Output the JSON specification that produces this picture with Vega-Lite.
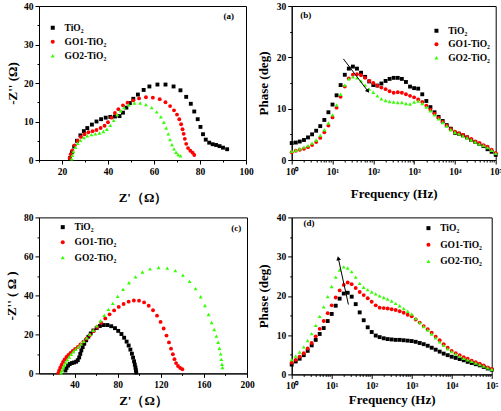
{
"$schema": "https://vega.github.io/schema/vega-lite/v6.json",
"padding": {"left": 5, "top": 0, "right": 0, "bottom": 0},
"background": "white",
"columns": 2,
"align": "each",
"bounds": "flush",
"spacing": {"column": 44.7, "row": 57.4},
"resolve": {"scale": {"color": "independent", "shape": "independent"}, "legend": {"color": "independent", "shape": "independent"}},
"config": {
  "font": "Liberation Serif",
  "view": {"stroke": "#000", "strokeWidth": 1},
  "axis": {"grid": false, "domainColor": "#000", "domainWidth": 1, "tickColor": "#000", "labelColor": "#000", "titleColor": "#000", "labelFont": "Liberation Serif", "titleFont": "Liberation Serif", "labelFontWeight": "bold", "titleFontWeight": "bold", "labelFontSize": 9.5, "titleFontSize": 13, "labelPadding": 2, "labelOverlap": false, "labelFlush": false, "labelBound": false, "tickCount": 200},
  "legend": {"labelFont": "Liberation Serif", "labelFontWeight": "bold", "labelFontSize": 9.5, "labelColor": "#000", "symbolSize": 16, "rowPadding": 4.5, "labelOffset": 7, "orient": "none", "padding": 0, "title": null, "symbolStrokeWidth": 0}
},
"concat": [
{
  "width": 207, "height": 154,
  "data": {"values": [
    {"s":"TiO₂","x":23.5,"y":0.5},{"s":"TiO₂","x":24.3,"y":2},{"s":"TiO₂","x":25.3,"y":3.5},{"s":"TiO₂","x":26.5,"y":5},{"s":"TiO₂","x":28,"y":6.4},{"s":"TiO₂","x":29.5,"y":7.5},{"s":"TiO₂","x":31,"y":8.3},{"s":"TiO₂","x":33,"y":9.2},{"s":"TiO₂","x":35,"y":10},{"s":"TiO₂","x":37,"y":10.6},{"s":"TiO₂","x":39,"y":11},{"s":"TiO₂","x":41,"y":11.2},{"s":"TiO₂","x":43,"y":11.3},{"s":"TiO₂","x":45,"y":11.4},{"s":"TiO₂","x":46.5,"y":12.3},{"s":"TiO₂","x":48,"y":13.6},{"s":"TiO₂","x":49.5,"y":14.8},{"s":"TiO₂","x":51,"y":15.9},{"s":"TiO₂","x":53,"y":17},{"s":"TiO₂","x":55.5,"y":18.2},{"s":"TiO₂","x":58,"y":19.1},{"s":"TiO₂","x":61.5,"y":19.6},{"s":"TiO₂","x":65,"y":19.6},{"s":"TiO₂","x":68.5,"y":19.1},{"s":"TiO₂","x":71.5,"y":18.1},{"s":"TiO₂","x":74,"y":16.4},{"s":"TiO₂","x":76,"y":14.6},{"s":"TiO₂","x":77.5,"y":12.6},{"s":"TiO₂","x":79,"y":10.6},{"s":"TiO₂","x":80.2,"y":8.6},{"s":"TiO₂","x":81.3,"y":6.7},{"s":"TiO₂","x":82.5,"y":5.3},{"s":"TiO₂","x":84,"y":4.5},{"s":"TiO₂","x":85.5,"y":4.1},{"s":"TiO₂","x":87,"y":3.9},{"s":"TiO₂","x":88.5,"y":3.6},{"s":"TiO₂","x":90,"y":3.2},{"s":"TiO₂","x":91.8,"y":2.8},
    {"s":"GO1-TiO₂","x":23.3,"y":0.5},{"s":"GO1-TiO₂","x":23.8,"y":1.5},{"s":"GO1-TiO₂","x":24.5,"y":2.5},{"s":"GO1-TiO₂","x":25.5,"y":3.8},{"s":"GO1-TiO₂","x":26.8,"y":5},{"s":"GO1-TiO₂","x":28.2,"y":6},{"s":"GO1-TiO₂","x":29.8,"y":6.7},{"s":"GO1-TiO₂","x":31.5,"y":7.2},{"s":"GO1-TiO₂","x":33.3,"y":7.5},{"s":"GO1-TiO₂","x":35,"y":7.8},{"s":"GO1-TiO₂","x":36.8,"y":8.3},{"s":"GO1-TiO₂","x":38.5,"y":8.9},{"s":"GO1-TiO₂","x":40,"y":9.8},{"s":"GO1-TiO₂","x":41.5,"y":11},{"s":"GO1-TiO₂","x":43,"y":12.2},{"s":"GO1-TiO₂","x":44.5,"y":13.2},{"s":"GO1-TiO₂","x":46.5,"y":14.2},{"s":"GO1-TiO₂","x":48.5,"y":14.9},{"s":"GO1-TiO₂","x":51,"y":15.5},{"s":"GO1-TiO₂","x":53.5,"y":16},{"s":"GO1-TiO₂","x":56.5,"y":16.3},{"s":"GO1-TiO₂","x":59.5,"y":16.2},{"s":"GO1-TiO₂","x":62.5,"y":15.8},{"s":"GO1-TiO₂","x":65,"y":15},{"s":"GO1-TiO₂","x":67,"y":14},{"s":"GO1-TiO₂","x":68.7,"y":12.9},{"s":"GO1-TiO₂","x":70,"y":11.8},{"s":"GO1-TiO₂","x":71,"y":10.6},{"s":"GO1-TiO₂","x":71.8,"y":9.3},{"s":"GO1-TiO₂","x":72.4,"y":8},{"s":"GO1-TiO₂","x":72.9,"y":6.8},{"s":"GO1-TiO₂","x":73.4,"y":5.5},{"s":"GO1-TiO₂","x":74,"y":4.2},{"s":"GO1-TiO₂","x":74.8,"y":3.1},{"s":"GO1-TiO₂","x":75.8,"y":2.4},{"s":"GO1-TiO₂","x":76.8,"y":1.9},{"s":"GO1-TiO₂","x":77.5,"y":1.3},
    {"s":"GO2-TiO₂","x":24.2,"y":0.3},{"s":"GO2-TiO₂","x":24.5,"y":1.2},{"s":"GO2-TiO₂","x":25,"y":2.2},{"s":"GO2-TiO₂","x":25.8,"y":3.3},{"s":"GO2-TiO₂","x":26.8,"y":4.3},{"s":"GO2-TiO₂","x":28,"y":5.1},{"s":"GO2-TiO₂","x":29.5,"y":5.8},{"s":"GO2-TiO₂","x":31,"y":6.3},{"s":"GO2-TiO₂","x":32.8,"y":6.6},{"s":"GO2-TiO₂","x":34.5,"y":6.8},{"s":"GO2-TiO₂","x":36.3,"y":7},{"s":"GO2-TiO₂","x":38,"y":7.4},{"s":"GO2-TiO₂","x":39.5,"y":8},{"s":"GO2-TiO₂","x":41,"y":9},{"s":"GO2-TiO₂","x":42.5,"y":10.3},{"s":"GO2-TiO₂","x":44,"y":11.8},{"s":"GO2-TiO₂","x":45.5,"y":12.8},{"s":"GO2-TiO₂","x":47,"y":13.6},{"s":"GO2-TiO₂","x":49,"y":14.3},{"s":"GO2-TiO₂","x":51.5,"y":14.8},{"s":"GO2-TiO₂","x":54,"y":14.8},{"s":"GO2-TiO₂","x":56.5,"y":14.4},{"s":"GO2-TiO₂","x":59,"y":13.6},{"s":"GO2-TiO₂","x":61.2,"y":12.5},{"s":"GO2-TiO₂","x":63,"y":11.2},{"s":"GO2-TiO₂","x":64.3,"y":9.8},{"s":"GO2-TiO₂","x":65.3,"y":8.3},{"s":"GO2-TiO₂","x":66.2,"y":6.8},{"s":"GO2-TiO₂","x":67,"y":5.3},{"s":"GO2-TiO₂","x":67.8,"y":4},{"s":"GO2-TiO₂","x":68.7,"y":2.9},{"s":"GO2-TiO₂","x":69.6,"y":2},{"s":"GO2-TiO₂","x":70.5,"y":1.4},{"s":"GO2-TiO₂","x":71.5,"y":1.1}
  ]},
  "layer": [
    {"mark": {"type": "point", "filled": true, "opacity": 1, "size": 15},
     "encoding": {
       "x": {"field": "x", "type": "quantitative", "scale": {"domain": [10, 100], "nice": false, "zero": false},
             "axis": {"title": "Z'（Ω）", "format": "d", "tickCount": 200, "values": [10,20,30,40,50,60,70,80,90,100], "labelOverlap": false, "labelExpr": "datum.value % 20 == 0 ? datum.label : ''", "tickSize": {"condition": {"test": "datum.value % 20 == 0", "value": 4}, "value": 2}, "titlePadding": 16}},
       "y": {"field": "y", "type": "quantitative", "scale": {"domain": [0, 40], "nice": false},
             "axis": {"title": "-Z'' (Ω)", "format": "d", "tickCount": 200, "values": [0,5,10,15,20,25,30,35,40], "labelOverlap": false, "labelExpr": "datum.value % 10 == 0 ? datum.label : ''", "tickSize": {"condition": {"test": "datum.value % 10 == 0", "value": 4}, "value": 2}, "titlePadding": 4}},
       "color": {"field": "s", "type": "nominal", "scale": {"domain": ["TiO₂","GO1-TiO₂","GO2-TiO₂"], "range": ["#000000","#ff0000","#33ff00"]}, "legend": {"legendX": 9, "legendY": 17, "rowPadding": 3}},
       "shape": {"field": "s", "type": "nominal", "scale": {"domain": ["TiO₂","GO1-TiO₂","GO2-TiO₂"], "range": ["square","circle","triangle-up"]}, "legend": {"legendX": 9, "legendY": 17, "rowPadding": 3}}
     }},
    {"data": {"values": [{"t": "(a)", "x": 92.5, "y": 37.4}]},
     "mark": {"type": "text", "fontWeight": "bold", "fontSize": 9, "align": "center", "baseline": "middle", "color": "#000"},
     "encoding": {"x": {"field": "x", "type": "quantitative"}, "y": {"field": "y", "type": "quantitative"}, "text": {"field": "t"}}}
  ]
},
{
  "width": 204, "height": 154,
  "data": {"values": [
    {"s":"TiO₂","f":1,"p":3.3},{"s":"TiO₂","f":1.26,"p":3.4},{"s":"TiO₂","f":1.58,"p":3.6},{"s":"TiO₂","f":2,"p":3.9},{"s":"TiO₂","f":2.51,"p":4.4},{"s":"TiO₂","f":3.16,"p":5.0},{"s":"TiO₂","f":3.98,"p":5.7},{"s":"TiO₂","f":5.01,"p":6.6},{"s":"TiO₂","f":6.31,"p":7.8},{"s":"TiO₂","f":7.94,"p":9.3},
    {"s":"TiO₂","f":10,"p":10.8},{"s":"TiO₂","f":12.6,"p":12.6},{"s":"TiO₂","f":15.8,"p":14.6},{"s":"TiO₂","f":20,"p":16.6},{"s":"TiO₂","f":25.1,"p":17.8},{"s":"TiO₂","f":31.6,"p":18.2},{"s":"TiO₂","f":39.8,"p":17.8},{"s":"TiO₂","f":50.1,"p":17.0},{"s":"TiO₂","f":63.1,"p":16.2},{"s":"TiO₂","f":79.4,"p":15.3},
    {"s":"TiO₂","f":100,"p":14.6},{"s":"TiO₂","f":126,"p":14.5},{"s":"TiO₂","f":158,"p":14.9},{"s":"TiO₂","f":200,"p":15.4},{"s":"TiO₂","f":251,"p":15.8},{"s":"TiO₂","f":316,"p":16.0},{"s":"TiO₂","f":398,"p":16.0},{"s":"TiO₂","f":501,"p":15.8},{"s":"TiO₂","f":631,"p":15.2},{"s":"TiO₂","f":794,"p":14.3},
    {"s":"TiO₂","f":1000,"p":14.0},{"s":"TiO₂","f":1259,"p":13.9},{"s":"TiO₂","f":1585,"p":12.8},{"s":"TiO₂","f":1995,"p":11.5},{"s":"TiO₂","f":2512,"p":10.3},{"s":"TiO₂","f":3162,"p":9.3},{"s":"TiO₂","f":3981,"p":8.4},{"s":"TiO₂","f":5012,"p":7.6},{"s":"TiO₂","f":6310,"p":6.8},{"s":"TiO₂","f":7943,"p":6.1},
    {"s":"TiO₂","f":10000,"p":5.3},{"s":"TiO₂","f":12589,"p":5.1},{"s":"TiO₂","f":15849,"p":4.8},{"s":"TiO₂","f":19953,"p":4.4},{"s":"TiO₂","f":25119,"p":3.9},{"s":"TiO₂","f":31623,"p":3.5},{"s":"TiO₂","f":39811,"p":3.1},{"s":"TiO₂","f":50119,"p":2.7},{"s":"TiO₂","f":63096,"p":2.1},{"s":"TiO₂","f":79433,"p":1.6},{"s":"TiO₂","f":100000,"p":1.0},
    {"s":"GO1-TiO₂","f":1,"p":1.5},{"s":"GO1-TiO₂","f":1.26,"p":1.8},{"s":"GO1-TiO₂","f":1.58,"p":2.0},{"s":"GO1-TiO₂","f":2,"p":2.2},{"s":"GO1-TiO₂","f":2.51,"p":2.5},{"s":"GO1-TiO₂","f":3.16,"p":2.9},{"s":"GO1-TiO₂","f":3.98,"p":3.5},{"s":"GO1-TiO₂","f":5.01,"p":4.3},{"s":"GO1-TiO₂","f":6.31,"p":5.4},{"s":"GO1-TiO₂","f":7.94,"p":6.7},
    {"s":"GO1-TiO₂","f":10,"p":8.3},{"s":"GO1-TiO₂","f":12.6,"p":10.2},{"s":"GO1-TiO₂","f":15.8,"p":12.3},{"s":"GO1-TiO₂","f":20,"p":14.3},{"s":"GO1-TiO₂","f":25.1,"p":15.9},{"s":"GO1-TiO₂","f":31.6,"p":16.6},{"s":"GO1-TiO₂","f":39.8,"p":16.7},{"s":"GO1-TiO₂","f":50.1,"p":16.5},{"s":"GO1-TiO₂","f":63.1,"p":16.0},{"s":"GO1-TiO₂","f":79.4,"p":15.4},
    {"s":"GO1-TiO₂","f":100,"p":15.0},{"s":"GO1-TiO₂","f":126,"p":14.5},{"s":"GO1-TiO₂","f":158,"p":14.1},{"s":"GO1-TiO₂","f":200,"p":13.8},{"s":"GO1-TiO₂","f":251,"p":13.4},{"s":"GO1-TiO₂","f":316,"p":13.1},{"s":"GO1-TiO₂","f":398,"p":13.2},{"s":"GO1-TiO₂","f":501,"p":13.1},{"s":"GO1-TiO₂","f":631,"p":12.8},{"s":"GO1-TiO₂","f":794,"p":12.5},
    {"s":"GO1-TiO₂","f":1000,"p":12.2},{"s":"GO1-TiO₂","f":1259,"p":11.8},{"s":"GO1-TiO₂","f":1585,"p":11.3},{"s":"GO1-TiO₂","f":1995,"p":10.6},{"s":"GO1-TiO₂","f":2512,"p":9.8},{"s":"GO1-TiO₂","f":3162,"p":9.0},{"s":"GO1-TiO₂","f":3981,"p":8.2},{"s":"GO1-TiO₂","f":5012,"p":7.4},{"s":"GO1-TiO₂","f":6310,"p":6.7},{"s":"GO1-TiO₂","f":7943,"p":6.0},
    {"s":"GO1-TiO₂","f":10000,"p":5.5},{"s":"GO1-TiO₂","f":12589,"p":5.2},{"s":"GO1-TiO₂","f":15849,"p":4.9},{"s":"GO1-TiO₂","f":19953,"p":4.5},{"s":"GO1-TiO₂","f":25119,"p":4.1},{"s":"GO1-TiO₂","f":31623,"p":3.6},{"s":"GO1-TiO₂","f":39811,"p":3.3},{"s":"GO1-TiO₂","f":50119,"p":2.9},{"s":"GO1-TiO₂","f":63096,"p":2.6},{"s":"GO1-TiO₂","f":79433,"p":2.0},{"s":"GO1-TiO₂","f":100000,"p":1.4},
    {"s":"GO2-TiO₂","f":1,"p":1.7},{"s":"GO2-TiO₂","f":1.26,"p":1.9},{"s":"GO2-TiO₂","f":1.58,"p":2.2},{"s":"GO2-TiO₂","f":2,"p":2.5},{"s":"GO2-TiO₂","f":2.51,"p":2.8},{"s":"GO2-TiO₂","f":3.16,"p":3.3},{"s":"GO2-TiO₂","f":3.98,"p":3.9},{"s":"GO2-TiO₂","f":5.01,"p":4.8},{"s":"GO2-TiO₂","f":6.31,"p":5.9},{"s":"GO2-TiO₂","f":7.94,"p":7.2},
    {"s":"GO2-TiO₂","f":10,"p":8.8},{"s":"GO2-TiO₂","f":12.6,"p":10.7},{"s":"GO2-TiO₂","f":15.8,"p":12.8},{"s":"GO2-TiO₂","f":20,"p":14.6},{"s":"GO2-TiO₂","f":25.1,"p":15.8},{"s":"GO2-TiO₂","f":31.6,"p":16.2},{"s":"GO2-TiO₂","f":39.8,"p":16.0},{"s":"GO2-TiO₂","f":50.1,"p":15.4},{"s":"GO2-TiO₂","f":63.1,"p":14.6},{"s":"GO2-TiO₂","f":79.4,"p":13.8},
    {"s":"GO2-TiO₂","f":100,"p":13.2},{"s":"GO2-TiO₂","f":126,"p":12.5},{"s":"GO2-TiO₂","f":158,"p":11.9},{"s":"GO2-TiO₂","f":200,"p":11.6},{"s":"GO2-TiO₂","f":251,"p":11.4},{"s":"GO2-TiO₂","f":316,"p":11.3},{"s":"GO2-TiO₂","f":398,"p":11.2},{"s":"GO2-TiO₂","f":501,"p":11.2},{"s":"GO2-TiO₂","f":631,"p":11.0},{"s":"GO2-TiO₂","f":794,"p":10.9},
    {"s":"GO2-TiO₂","f":1000,"p":11.3},{"s":"GO2-TiO₂","f":1259,"p":11.5},{"s":"GO2-TiO₂","f":1585,"p":11.0},{"s":"GO2-TiO₂","f":1995,"p":10.3},{"s":"GO2-TiO₂","f":2512,"p":9.6},{"s":"GO2-TiO₂","f":3162,"p":8.8},{"s":"GO2-TiO₂","f":3981,"p":8.0},{"s":"GO2-TiO₂","f":5012,"p":7.3},{"s":"GO2-TiO₂","f":6310,"p":6.6},{"s":"GO2-TiO₂","f":7943,"p":5.9},
    {"s":"GO2-TiO₂","f":10000,"p":5.4},{"s":"GO2-TiO₂","f":12589,"p":5.1},{"s":"GO2-TiO₂","f":15849,"p":4.7},{"s":"GO2-TiO₂","f":19953,"p":4.3},{"s":"GO2-TiO₂","f":25119,"p":3.9},{"s":"GO2-TiO₂","f":31623,"p":3.5},{"s":"GO2-TiO₂","f":39811,"p":3.1},{"s":"GO2-TiO₂","f":50119,"p":2.8},{"s":"GO2-TiO₂","f":63096,"p":2.4},{"s":"GO2-TiO₂","f":79433,"p":1.9},{"s":"GO2-TiO₂","f":100000,"p":1.3}
  ]},
  "layer": [
    {"mark": {"type": "point", "filled": true, "opacity": 1, "size": 15},
     "encoding": {
       "x": {"field": "f", "type": "quantitative", "scale": {"type": "log", "domain": [1, 100000], "nice": false},
             "axis": {"title": "Frequency (Hz)", "tickCount": 200, "labelOverlap": false, "values": [1,2,3,4,5,6,7,8,9,10,20,30,40,50,60,70,80,90,100,200,300,400,500,600,700,800,900,1000,2000,3000,4000,5000,6000,7000,8000,9000,10000,20000,30000,40000,50000,60000,70000,80000,90000,100000],
                      "labelExpr": "datum.value == 1 ? '10⁰' : datum.value == 10 ? '10¹' : datum.value == 100 ? '10²' : datum.value == 1000 ? '10³' : datum.value == 10000 ? '10⁴' : datum.value == 100000 ? '10⁵' : ''",
                      "tickSize": {"condition": {"test": "indexof([1,10,100,1000,10000,100000], datum.value) >= 0", "value": 4}, "value": 2}, "titlePadding": 12}},
       "y": {"field": "p", "type": "quantitative", "scale": {"domain": [0, 30], "nice": false},
             "axis": {"title": "Phase (deg)", "format": "d", "tickCount": 200, "labelOverlap": false, "values": [0,5,10,15,20,25,30], "labelExpr": "datum.value % 10 == 0 ? datum.label : ''", "tickSize": {"condition": {"test": "datum.value % 10 == 0", "value": 4}, "value": 2}, "titlePadding": 6}},
       "color": {"field": "s", "type": "nominal", "scale": {"domain": ["TiO₂","GO1-TiO₂","GO2-TiO₂"], "range": ["#000000","#ff0000","#33ff00"]}, "legend": {"legendX": 140, "legendY": 20, "rowPadding": 2.5}},
       "shape": {"field": "s", "type": "nominal", "scale": {"domain": ["TiO₂","GO1-TiO₂","GO2-TiO₂"], "range": ["square","circle","triangle-up"]}, "legend": {"legendX": 140, "legendY": 20, "rowPadding": 2.5}}
     }},
    {"data": {"values": [{"f": 18.5, "p": 19.7, "f2": 74, "p2": 13.4}]},
     "mark": {"type": "rule", "color": "#000", "strokeWidth": 1},
     "encoding": {"x": {"field": "f", "type": "quantitative"}, "y": {"field": "p", "type": "quantitative"}, "x2": {"field": "f2"}, "y2": {"field": "p2"}}},
    {"data": {"values": [{"f": 74, "p": 13.4}]},
     "mark": {"type": "point", "shape": "triangle-up", "filled": true, "color": "#000", "size": 22, "angle": 143, "opacity": 1},
     "encoding": {"x": {"field": "f", "type": "quantitative"}, "y": {"field": "p", "type": "quantitative"}}},
    {"data": {"values": [{"t": "(b)", "f": 2.2, "p": 28.2}]},
     "mark": {"type": "text", "fontWeight": "bold", "fontSize": 9, "align": "center", "baseline": "middle", "color": "#000"},
     "encoding": {"x": {"field": "f", "type": "quantitative"}, "y": {"field": "p", "type": "quantitative"}, "text": {"field": "t"}}}
  ]
},
{
  "width": 208, "height": 156,
  "data": {"values": [
    {"s":"TiO₂","x":31.5,"y":1.5},{"s":"TiO₂","x":32.5,"y":2.8},{"s":"TiO₂","x":34,"y":4},{"s":"TiO₂","x":35.5,"y":4.8},{"s":"TiO₂","x":37.5,"y":5.3},{"s":"TiO₂","x":39.5,"y":5.6},{"s":"TiO₂","x":41.5,"y":6},{"s":"TiO₂","x":43,"y":6.8},{"s":"TiO₂","x":44.3,"y":8.2},{"s":"TiO₂","x":45.3,"y":10},{"s":"TiO₂","x":46.3,"y":11.8},{"s":"TiO₂","x":47.5,"y":13.5},{"s":"TiO₂","x":49,"y":15.2},{"s":"TiO₂","x":50.8,"y":17},{"s":"TiO₂","x":52.8,"y":18.8},{"s":"TiO₂","x":55,"y":20.5},{"s":"TiO₂","x":57.5,"y":22},{"s":"TiO₂","x":60.5,"y":23.3},{"s":"TiO₂","x":63.5,"y":24.3},{"s":"TiO₂","x":67,"y":24.8},{"s":"TiO₂","x":70.5,"y":24.8},{"s":"TiO₂","x":74,"y":24.2},{"s":"TiO₂","x":77.5,"y":23.2},{"s":"TiO₂","x":80.5,"y":21.8},{"s":"TiO₂","x":83.5,"y":20.2},{"s":"TiO₂","x":86,"y":18.3},{"s":"TiO₂","x":88.3,"y":16.3},{"s":"TiO₂","x":90.2,"y":14.3},{"s":"TiO₂","x":91.8,"y":12.2},{"s":"TiO₂","x":93.2,"y":10.1},{"s":"TiO₂","x":94.3,"y":8.1},{"s":"TiO₂","x":95.2,"y":6.2},{"s":"TiO₂","x":95.9,"y":4.5},{"s":"TiO₂","x":96.5,"y":3},{"s":"TiO₂","x":96.9,"y":1.6},{"s":"TiO₂","x":97.2,"y":0.5},
    {"s":"GO1-TiO₂","x":25,"y":0.3},{"s":"GO1-TiO₂","x":25.8,"y":1.6},{"s":"GO1-TiO₂","x":26.8,"y":3},{"s":"GO1-TiO₂","x":28,"y":4.5},{"s":"GO1-TiO₂","x":29.3,"y":5.9},{"s":"GO1-TiO₂","x":30.8,"y":7.2},{"s":"GO1-TiO₂","x":32.5,"y":8.4},{"s":"GO1-TiO₂","x":34.3,"y":9.5},{"s":"GO1-TiO₂","x":36.2,"y":10.5},{"s":"GO1-TiO₂","x":38.3,"y":11.5},{"s":"GO1-TiO₂","x":40.5,"y":12.5},{"s":"GO1-TiO₂","x":43,"y":13.6},{"s":"GO1-TiO₂","x":45.5,"y":14.9},{"s":"GO1-TiO₂","x":48.3,"y":16.3},{"s":"GO1-TiO₂","x":51.2,"y":17.9},{"s":"GO1-TiO₂","x":54.3,"y":19.7},{"s":"GO1-TiO₂","x":57.6,"y":21.7},{"s":"GO1-TiO₂","x":61,"y":23.8},{"s":"GO1-TiO₂","x":64.7,"y":26},{"s":"GO1-TiO₂","x":68.5,"y":28.2},{"s":"GO1-TiO₂","x":72.5,"y":30.3},{"s":"GO1-TiO₂","x":76.7,"y":32.3},{"s":"GO1-TiO₂","x":81,"y":34.1},{"s":"GO1-TiO₂","x":85.5,"y":35.6},{"s":"GO1-TiO₂","x":90.2,"y":36.8},{"s":"GO1-TiO₂","x":95,"y":37.4},{"s":"GO1-TiO₂","x":99.8,"y":37.3},{"s":"GO1-TiO₂","x":104.5,"y":36.4},{"s":"GO1-TiO₂","x":108.8,"y":34.7},{"s":"GO1-TiO₂","x":112.8,"y":32.4},{"s":"GO1-TiO₂","x":116.5,"y":29.6},{"s":"GO1-TiO₂","x":119.8,"y":26.4},{"s":"GO1-TiO₂","x":122.7,"y":23},{"s":"GO1-TiO₂","x":125.3,"y":19.4},{"s":"GO1-TiO₂","x":127.6,"y":15.9},{"s":"GO1-TiO₂","x":129.5,"y":12.7},{"s":"GO1-TiO₂","x":131.2,"y":9.8},{"s":"GO1-TiO₂","x":132.7,"y":7.3},{"s":"GO1-TiO₂","x":134.2,"y":5.3},{"s":"GO1-TiO₂","x":136,"y":3.8},{"s":"GO1-TiO₂","x":138,"y":2.8},{"s":"GO1-TiO₂","x":140,"y":2.1},
    {"s":"GO2-TiO₂","x":27.5,"y":0.3},{"s":"GO2-TiO₂","x":28.3,"y":1.5},{"s":"GO2-TiO₂","x":29.3,"y":2.8},{"s":"GO2-TiO₂","x":30.5,"y":4.2},{"s":"GO2-TiO₂","x":31.8,"y":5.6},{"s":"GO2-TiO₂","x":33.3,"y":7},{"s":"GO2-TiO₂","x":35,"y":8.4},{"s":"GO2-TiO₂","x":36.8,"y":9.8},{"s":"GO2-TiO₂","x":38.8,"y":11.1},{"s":"GO2-TiO₂","x":41,"y":12.3},{"s":"GO2-TiO₂","x":43.3,"y":13.6},{"s":"GO2-TiO₂","x":45.8,"y":15},{"s":"GO2-TiO₂","x":48.5,"y":16.5},{"s":"GO2-TiO₂","x":51.3,"y":18.2},{"s":"GO2-TiO₂","x":54.2,"y":20},{"s":"GO2-TiO₂","x":57.3,"y":22.1},{"s":"GO2-TiO₂","x":60.6,"y":24.4},{"s":"GO2-TiO₂","x":64,"y":27},{"s":"GO2-TiO₂","x":67.6,"y":29.8},{"s":"GO2-TiO₂","x":71.4,"y":32.8},{"s":"GO2-TiO₂","x":75.5,"y":35.9},{"s":"GO2-TiO₂","x":80,"y":39.5},{"s":"GO2-TiO₂","x":85,"y":43.1},{"s":"GO2-TiO₂","x":90.5,"y":46.5},{"s":"GO2-TiO₂","x":96.5,"y":49.5},{"s":"GO2-TiO₂","x":103,"y":52},{"s":"GO2-TiO₂","x":110,"y":53.6},{"s":"GO2-TiO₂","x":118,"y":54.3},{"s":"GO2-TiO₂","x":126,"y":54},{"s":"GO2-TiO₂","x":133.5,"y":52.7},{"s":"GO2-TiO₂","x":140.5,"y":50.4},{"s":"GO2-TiO₂","x":146.8,"y":47.2},{"s":"GO2-TiO₂","x":152.3,"y":43.5},{"s":"GO2-TiO₂","x":157,"y":39.3},{"s":"GO2-TiO₂","x":161,"y":34.8},{"s":"GO2-TiO₂","x":164.3,"y":30.2},{"s":"GO2-TiO₂","x":167.2,"y":26.1},{"s":"GO2-TiO₂","x":169.6,"y":22.5},{"s":"GO2-TiO₂","x":171.6,"y":19.1},{"s":"GO2-TiO₂","x":173.2,"y":16},{"s":"GO2-TiO₂","x":174.5,"y":12.9},{"s":"GO2-TiO₂","x":175.5,"y":10},{"s":"GO2-TiO₂","x":176.2,"y":7.2},{"s":"GO2-TiO₂","x":176.8,"y":4.7},{"s":"GO2-TiO₂","x":177.2,"y":3}
  ]},
  "layer": [
    {"mark": {"type": "point", "filled": true, "opacity": 1, "size": 15},
     "encoding": {
       "x": {"field": "x", "type": "quantitative", "scale": {"domain": [7, 200], "nice": false, "zero": false},
             "axis": {"title": "Z'（Ω）", "format": "d", "tickCount": 200, "labelOverlap": false, "values": [20,40,60,80,100,120,140,160,180,200], "labelExpr": "datum.value % 40 == 0 ? datum.label : ''", "tickSize": {"condition": {"test": "datum.value % 40 == 0", "value": 4}, "value": 2}, "titlePadding": 6}},
       "y": {"field": "y", "type": "quantitative", "scale": {"domain": [0, 80], "nice": false},
             "axis": {"title": "-Z'' ( Ω )", "format": "d", "tickCount": 200, "labelOverlap": false, "values": [0,10,20,30,40,50,60,70,80], "labelExpr": "datum.value % 20 == 0 ? datum.label : ''", "tickSize": {"condition": {"test": "datum.value % 20 == 0", "value": 4}, "value": 2}, "titlePadding": 5}},
       "color": {"field": "s", "type": "nominal", "scale": {"domain": ["TiO₂","GO1-TiO₂","GO2-TiO₂"], "range": ["#000000","#ff0000","#33ff00"]}, "legend": {"legendX": 19, "legendY": 5, "rowPadding": 4.2}},
       "shape": {"field": "s", "type": "nominal", "scale": {"domain": ["TiO₂","GO1-TiO₂","GO2-TiO₂"], "range": ["square","circle","triangle-up"]}, "legend": {"legendX": 19, "legendY": 5, "rowPadding": 4.2}}
     }},
    {"data": {"values": [{"t": "(c)", "x": 190, "y": 74.5}]},
     "mark": {"type": "text", "fontWeight": "bold", "fontSize": 9, "align": "center", "baseline": "middle", "color": "#000"},
     "encoding": {"x": {"field": "x", "type": "quantitative"}, "y": {"field": "y", "type": "quantitative"}, "text": {"field": "t"}}}
  ]
},
{
  "width": 200, "height": 157,
  "data": {"values": [
    {"s":"TiO₂","f":1,"p":2.5},{"s":"TiO₂","f":1.26,"p":3.3},{"s":"TiO₂","f":1.58,"p":4.0},{"s":"TiO₂","f":2,"p":4.9},{"s":"TiO₂","f":2.51,"p":6.0},{"s":"TiO₂","f":3.16,"p":7.4},{"s":"TiO₂","f":3.98,"p":8.8},{"s":"TiO₂","f":5.01,"p":10.3},{"s":"TiO₂","f":6.31,"p":11.8},{"s":"TiO₂","f":7.94,"p":13.6},
    {"s":"TiO₂","f":10,"p":15.4},{"s":"TiO₂","f":12.6,"p":17.5},{"s":"TiO₂","f":15.8,"p":19.3},{"s":"TiO₂","f":20,"p":20.6},{"s":"TiO₂","f":25.1,"p":20.8},{"s":"TiO₂","f":31.6,"p":19.8},{"s":"TiO₂","f":39.8,"p":17.9},{"s":"TiO₂","f":50.1,"p":15.8},{"s":"TiO₂","f":63.1,"p":13.8},{"s":"TiO₂","f":79.4,"p":12.0},
    {"s":"TiO₂","f":100,"p":10.8},{"s":"TiO₂","f":126,"p":9.9},{"s":"TiO₂","f":158,"p":9.5},{"s":"TiO₂","f":200,"p":9.2},{"s":"TiO₂","f":251,"p":9.0},{"s":"TiO₂","f":316,"p":8.9},{"s":"TiO₂","f":398,"p":8.8},{"s":"TiO₂","f":501,"p":8.8},{"s":"TiO₂","f":631,"p":8.7},{"s":"TiO₂","f":794,"p":8.6},
    {"s":"TiO₂","f":1000,"p":8.5},{"s":"TiO₂","f":1259,"p":8.3},{"s":"TiO₂","f":1585,"p":8.0},{"s":"TiO₂","f":1995,"p":7.7},{"s":"TiO₂","f":2512,"p":7.3},{"s":"TiO₂","f":3162,"p":6.8},{"s":"TiO₂","f":3981,"p":6.3},{"s":"TiO₂","f":5012,"p":5.8},{"s":"TiO₂","f":6310,"p":5.3},{"s":"TiO₂","f":7943,"p":4.9},
    {"s":"TiO₂","f":10000,"p":4.5},{"s":"TiO₂","f":12589,"p":4.2},{"s":"TiO₂","f":15849,"p":3.9},{"s":"TiO₂","f":19953,"p":3.6},{"s":"TiO₂","f":25119,"p":3.2},{"s":"TiO₂","f":31623,"p":2.9},{"s":"TiO₂","f":39811,"p":2.6},{"s":"TiO₂","f":50119,"p":2.3},{"s":"TiO₂","f":63096,"p":1.9},{"s":"TiO₂","f":79433,"p":1.5},{"s":"TiO₂","f":100000,"p":1.2},
    {"s":"GO1-TiO₂","f":1,"p":3.0},{"s":"GO1-TiO₂","f":1.26,"p":3.7},{"s":"GO1-TiO₂","f":1.58,"p":4.5},{"s":"GO1-TiO₂","f":2,"p":5.4},{"s":"GO1-TiO₂","f":2.51,"p":6.6},{"s":"GO1-TiO₂","f":3.16,"p":8.0},{"s":"GO1-TiO₂","f":3.98,"p":9.7},{"s":"GO1-TiO₂","f":5.01,"p":11.6},{"s":"GO1-TiO₂","f":6.31,"p":13.6},{"s":"GO1-TiO₂","f":7.94,"p":15.6},
    {"s":"GO1-TiO₂","f":10,"p":17.6},{"s":"GO1-TiO₂","f":12.6,"p":19.6},{"s":"GO1-TiO₂","f":15.8,"p":21.4},{"s":"GO1-TiO₂","f":20,"p":22.8},{"s":"GO1-TiO₂","f":25.1,"p":23.4},{"s":"GO1-TiO₂","f":31.6,"p":23.0},{"s":"GO1-TiO₂","f":39.8,"p":22.0},{"s":"GO1-TiO₂","f":50.1,"p":21.0},{"s":"GO1-TiO₂","f":63.1,"p":20.2},{"s":"GO1-TiO₂","f":79.4,"p":19.4},
    {"s":"GO1-TiO₂","f":100,"p":18.5},{"s":"GO1-TiO₂","f":126,"p":17.6},{"s":"GO1-TiO₂","f":158,"p":17.0},{"s":"GO1-TiO₂","f":200,"p":16.9},{"s":"GO1-TiO₂","f":251,"p":16.8},{"s":"GO1-TiO₂","f":316,"p":16.6},{"s":"GO1-TiO₂","f":398,"p":16.4},{"s":"GO1-TiO₂","f":501,"p":16.1},{"s":"GO1-TiO₂","f":631,"p":15.7},{"s":"GO1-TiO₂","f":794,"p":15.2},
    {"s":"GO1-TiO₂","f":1000,"p":14.8},{"s":"GO1-TiO₂","f":1259,"p":14.0},{"s":"GO1-TiO₂","f":1585,"p":13.2},{"s":"GO1-TiO₂","f":1995,"p":12.3},{"s":"GO1-TiO₂","f":2512,"p":11.5},{"s":"GO1-TiO₂","f":3162,"p":10.6},{"s":"GO1-TiO₂","f":3981,"p":9.6},{"s":"GO1-TiO₂","f":5012,"p":8.7},{"s":"GO1-TiO₂","f":6310,"p":7.7},{"s":"GO1-TiO₂","f":7943,"p":6.8},
    {"s":"GO1-TiO₂","f":10000,"p":6.0},{"s":"GO1-TiO₂","f":12589,"p":5.4},{"s":"GO1-TiO₂","f":15849,"p":4.9},{"s":"GO1-TiO₂","f":19953,"p":4.4},{"s":"GO1-TiO₂","f":25119,"p":4.0},{"s":"GO1-TiO₂","f":31623,"p":3.5},{"s":"GO1-TiO₂","f":39811,"p":3.1},{"s":"GO1-TiO₂","f":50119,"p":2.7},{"s":"GO1-TiO₂","f":63096,"p":2.3},{"s":"GO1-TiO₂","f":79433,"p":1.8},{"s":"GO1-TiO₂","f":100000,"p":1.4},
    {"s":"GO2-TiO₂","f":1,"p":3.8},{"s":"GO2-TiO₂","f":1.26,"p":4.7},{"s":"GO2-TiO₂","f":1.58,"p":5.7},{"s":"GO2-TiO₂","f":2,"p":7.0},{"s":"GO2-TiO₂","f":2.51,"p":8.6},{"s":"GO2-TiO₂","f":3.16,"p":10.4},{"s":"GO2-TiO₂","f":3.98,"p":12.5},{"s":"GO2-TiO₂","f":5.01,"p":14.8},{"s":"GO2-TiO₂","f":6.31,"p":17.2},{"s":"GO2-TiO₂","f":7.94,"p":19.8},
    {"s":"GO2-TiO₂","f":10,"p":22.4},{"s":"GO2-TiO₂","f":12.6,"p":24.8},{"s":"GO2-TiO₂","f":15.8,"p":26.6},{"s":"GO2-TiO₂","f":20,"p":27.4},{"s":"GO2-TiO₂","f":25.1,"p":27.1},{"s":"GO2-TiO₂","f":31.6,"p":26.2},{"s":"GO2-TiO₂","f":39.8,"p":24.8},{"s":"GO2-TiO₂","f":50.1,"p":23.2},{"s":"GO2-TiO₂","f":63.1,"p":22.2},{"s":"GO2-TiO₂","f":79.4,"p":21.6},
    {"s":"GO2-TiO₂","f":100,"p":21.0},{"s":"GO2-TiO₂","f":126,"p":20.5},{"s":"GO2-TiO₂","f":158,"p":20.0},{"s":"GO2-TiO₂","f":200,"p":19.6},{"s":"GO2-TiO₂","f":251,"p":19.2},{"s":"GO2-TiO₂","f":316,"p":18.7},{"s":"GO2-TiO₂","f":398,"p":18.1},{"s":"GO2-TiO₂","f":501,"p":17.5},{"s":"GO2-TiO₂","f":631,"p":16.8},{"s":"GO2-TiO₂","f":794,"p":16.1},
    {"s":"GO2-TiO₂","f":1000,"p":15.4},{"s":"GO2-TiO₂","f":1259,"p":14.2},{"s":"GO2-TiO₂","f":1585,"p":13.2},{"s":"GO2-TiO₂","f":1995,"p":12.2},{"s":"GO2-TiO₂","f":2512,"p":11.3},{"s":"GO2-TiO₂","f":3162,"p":10.3},{"s":"GO2-TiO₂","f":3981,"p":9.3},{"s":"GO2-TiO₂","f":5012,"p":8.3},{"s":"GO2-TiO₂","f":6310,"p":7.4},{"s":"GO2-TiO₂","f":7943,"p":6.5},
    {"s":"GO2-TiO₂","f":10000,"p":5.8},{"s":"GO2-TiO₂","f":12589,"p":5.2},{"s":"GO2-TiO₂","f":15849,"p":4.6},{"s":"GO2-TiO₂","f":19953,"p":4.1},{"s":"GO2-TiO₂","f":25119,"p":3.7},{"s":"GO2-TiO₂","f":31623,"p":3.3},{"s":"GO2-TiO₂","f":39811,"p":2.9},{"s":"GO2-TiO₂","f":50119,"p":2.5},{"s":"GO2-TiO₂","f":63096,"p":2.1},{"s":"GO2-TiO₂","f":79433,"p":1.7},{"s":"GO2-TiO₂","f":100000,"p":1.3}
  ]},
  "layer": [
    {"mark": {"type": "point", "filled": true, "opacity": 1, "size": 15},
     "encoding": {
       "x": {"field": "f", "type": "quantitative", "scale": {"type": "log", "domain": [1, 100000], "nice": false},
             "axis": {"title": "Frequency (Hz)", "tickCount": 200, "labelOverlap": false, "values": [1,2,3,4,5,6,7,8,9,10,20,30,40,50,60,70,80,90,100,200,300,400,500,600,700,800,900,1000,2000,3000,4000,5000,6000,7000,8000,9000,10000,20000,30000,40000,50000,60000,70000,80000,90000,100000],
                      "labelExpr": "datum.value == 1 ? '10⁰' : datum.value == 10 ? '10¹' : datum.value == 100 ? '10²' : datum.value == 1000 ? '10³' : datum.value == 10000 ? '10⁴' : datum.value == 100000 ? '10⁵' : ''",
                      "tickSize": {"condition": {"test": "indexof([1,10,100,1000,10000,100000], datum.value) >= 0", "value": 4}, "value": 2}, "titlePadding": 4}},
       "y": {"field": "p", "type": "quantitative", "scale": {"domain": [0, 40], "nice": false},
             "axis": {"title": "Phase (deg)", "format": "d", "tickCount": 200, "labelOverlap": false, "values": [0,5,10,15,20,25,30,35,40], "labelExpr": "datum.value % 10 == 0 ? datum.label : ''", "tickSize": {"condition": {"test": "datum.value % 10 == 0", "value": 4}, "value": 2}, "titlePadding": 6}},
       "color": {"field": "s", "type": "nominal", "scale": {"domain": ["TiO₂","GO1-TiO₂","GO2-TiO₂"], "range": ["#000000","#ff0000","#33ff00"]}, "legend": {"legendX": 132, "legendY": 6, "rowPadding": 5.5}},
       "shape": {"field": "s", "type": "nominal", "scale": {"domain": ["TiO₂","GO1-TiO₂","GO2-TiO₂"], "range": ["square","circle","triangle-up"]}, "legend": {"legendX": 132, "legendY": 6, "rowPadding": 5.5}}
     }},
    {"data": {"values": [{"f": 26.2, "p": 17.8, "f2": 14.6, "p2": 29.6}]},
     "mark": {"type": "rule", "color": "#000", "strokeWidth": 1},
     "encoding": {"x": {"field": "f", "type": "quantitative"}, "y": {"field": "p", "type": "quantitative"}, "x2": {"field": "f2"}, "y2": {"field": "p2"}}},
    {"data": {"values": [{"f": 14.6, "p": 29.6}]},
     "mark": {"type": "point", "shape": "triangle-up", "filled": true, "color": "#000", "size": 22, "angle": 348, "opacity": 1},
     "encoding": {"x": {"field": "f", "type": "quantitative"}, "y": {"field": "p", "type": "quantitative"}}},
    {"data": {"values": [{"t": "(d)", "f": 2.7, "p": 38.5}]},
     "mark": {"type": "text", "fontWeight": "bold", "fontSize": 9, "align": "center", "baseline": "middle", "color": "#000"},
     "encoding": {"x": {"field": "f", "type": "quantitative"}, "y": {"field": "p", "type": "quantitative"}, "text": {"field": "t"}}}
  ]
}
]
}
